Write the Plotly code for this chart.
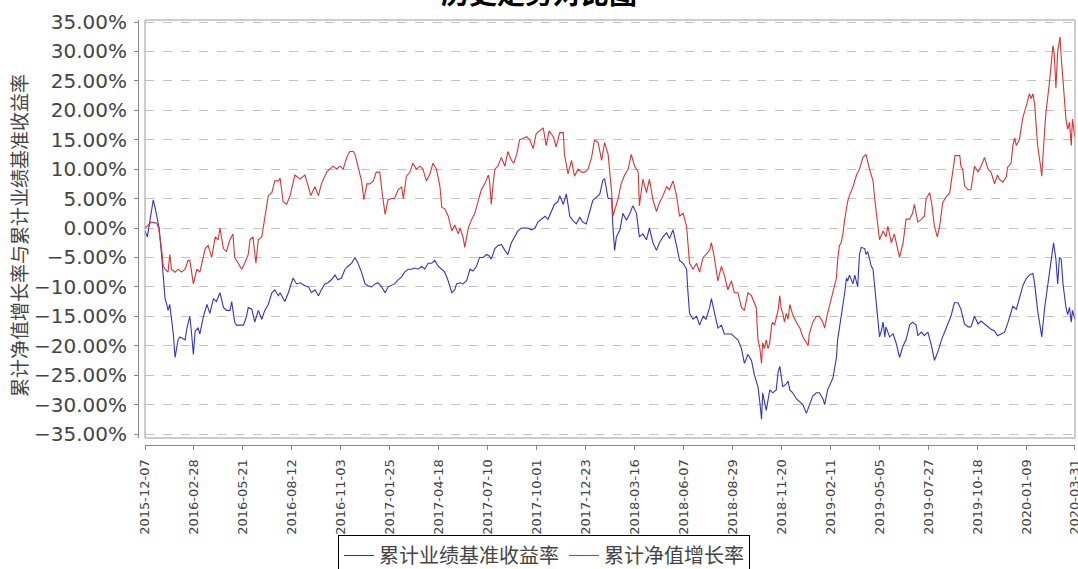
import pandas as pd
import plotly.graph_objects as go

start_date = "2015-12-07"

# 累计业绩基准收益率 (days since start, %)
bench_days = [0, 4, 8, 14, 17, 20, 24, 28, 31, 34, 37, 39, 42, 45, 48, 51, 54, 56, 59, 65, 68, 71, 76, 79, 82, 85, 90, 93, 99, 105,
              110, 116, 121, 127, 133, 138, 144, 147, 152, 155, 161, 167, 172, 175, 181, 186, 192, 198, 203, 209, 215, 220, 226, 229, 237, 243, 251, 257, 263, 271,
              277, 282, 288, 294, 299, 305, 310, 316, 322, 327, 333, 339, 344, 350, 356, 361, 367, 373, 378, 384, 390, 395, 401, 407, 412, 418, 423, 429, 435, 440,
              446, 452, 457, 463, 469, 474, 480, 486, 491, 497, 503, 508, 514, 520, 525, 528, 534, 539, 545, 551, 556, 562, 567, 573, 579, 584, 587, 593, 598, 604,
              610, 615, 621, 627, 632, 638, 644, 649, 655, 661, 666, 672, 678, 683, 689, 694, 700, 703, 709, 714, 717, 720, 725, 731, 737, 742, 748, 754, 759, 765,
              771, 776, 779, 785, 791, 793, 796, 799, 805, 810, 816, 822, 827, 833, 838, 844, 850, 855, 861, 867, 872, 878, 884, 889, 895, 901, 906, 912, 918, 920,
              923, 929, 935, 940, 946, 951, 957, 960, 965, 971, 977, 982, 988, 994, 999, 1005, 1011, 1016, 1022, 1028, 1033, 1039, 1042, 1045, 1047, 1050, 1053, 1059, 1064, 1070,
              1073, 1076, 1078, 1081, 1087, 1090, 1093, 1098, 1104, 1110, 1115, 1121, 1126, 1132, 1138, 1143, 1149, 1152, 1157, 1163, 1166, 1172, 1174, 1177, 1183, 1186, 1189, 1191, 1194, 1200,
              1203, 1208, 1211, 1214, 1220, 1222, 1225, 1231, 1234, 1237, 1239, 1242, 1245, 1248, 1251, 1254, 1256, 1262, 1268, 1273, 1279, 1285, 1290, 1296, 1301, 1307, 1310, 1316, 1321, 1327,
              1333, 1338, 1344, 1350, 1355, 1361, 1366, 1372, 1378, 1383, 1389, 1395, 1400, 1406, 1412, 1417, 1423, 1429, 1434, 1440, 1445, 1451, 1457, 1462, 1468, 1471, 1477, 1482, 1488, 1493,
              1499, 1505, 1508, 1513, 1518, 1520, 1525, 1530, 1536, 1540, 1544, 1547, 1550, 1553, 1556, 1561, 1564, 1567, 1570, 1572, 1576]
bench_pct = [-0.5, -1.5, 1, 4.8, 3.5, 2, 0, -4.5, -8, -12, -13, -14, -13, -15.5, -18, -22, -20, -19, -18.5, -18.8, -19, -17, -15, -18, -21.5, -17.5, -17, -18, -15, -13,
             -14.5, -12, -12.5, -11, -13.5, -14, -14, -12.5, -16, -16.5, -16.5, -16.5, -15, -13.5, -13.8, -16, -14, -15.5, -14, -13, -11, -10.5, -11.5, -11, -12.5, -11, -8.5, -9.5, -9.3, -9.8,
             -10, -11, -10.5, -11.5, -10.5, -9.5, -9.3, -8.8, -8, -8.8, -8.5, -7, -6.5, -6, -5, -6, -7.5, -9.5, -9.8, -10, -9.5, -9.3, -10, -11, -10, -9.8, -9.5, -8.8, -8.3, -7.5,
             -7, -7, -6.8, -7, -6.5, -7, -6, -6, -5.5, -6.5, -7, -7.5, -9, -11, -10.5, -9.5, -9.3, -9.5, -9, -7, -7.3, -6.5, -5, -5, -4.5, -4.8, -5.3, -3.5, -3, -2.8,
             -3.8, -4.5, -2.5, -1.5, -0.5, 0, 0, 0, -0.3, 0, 1, 1.5, 2, 1.5, 3, 4, 4.5, 5.5, 4, 5.8, 4, 2, 1.3, 0.7, 1.8, 1, 0.7, 3, 4.7, 5.2,
             5.8, 8.1, 8.4, 5, 5, 0.3, -3.8, -1.5, -0.3, 2.5, 1.3, 2.5, 3.8, 2.5, -1.5, -1, -2, 0, -2.5, -3.8, -2.5, -1.5, -0.8, -1.8, -0.3, -3, -5.5, -6, -7, -10.5,
             -14.5, -15.5, -15, -16.5, -15, -15.5, -13.5, -12, -14.5, -17, -16.5, -18, -18, -18, -18.5, -19, -20.5, -23, -21.5, -22.5, -25, -27, -29.5, -32.5, -28, -29.5, -31, -27.5, -28, -27.5,
             -24.5, -23.5, -25, -27, -26.5, -26, -27.5, -28, -29, -29.5, -30, -31.5, -30, -28.5, -28, -28, -29, -30, -27.5, -26, -25.5, -22, -19, -17, -13.3, -11, -8.5, -9, -8, -9.5,
             -8, -10, -4.5, -3.3, -3.5, -4.5, -4, -6.5, -7, -10, -12.5, -16, -18.5, -17.5, -16, -18.5, -16.8, -18.5, -18, -19.5, -22, -20, -19, -16.5, -16, -16.5, -18.3, -17.7, -18.3, -17.7,
             -20, -22.5, -21, -19, -17.7, -16.3, -15, -12.7, -12.7, -13.8, -16.3, -16.8, -16.8, -15, -16.3, -15.8, -16.3, -16.8, -17.2, -17.5, -18.3, -18, -17.7, -16.3, -14.5, -13.3, -13.8, -11.8, -9.8, -8.7,
             -8, -7.7, -9.5, -14, -16.8, -18.5, -13.5, -9.5, -5.3, -2.5, -5.3, -9.5, -5, -5.3, -9.5, -13.5, -14.7, -13.5, -16, -14, -15.5]

# 累计净值增长率 (days since start, %)
nav_days = [0, 5, 11, 20, 23, 28, 31, 34, 39, 42, 45, 51, 56, 62, 68, 73, 76, 82, 88, 93, 102, 107, 113, 119, 124, 127, 133, 138, 144, 149,
            152, 158, 164, 169, 175, 178, 183, 188, 192, 198, 203, 209, 215, 220, 226, 229, 234, 240, 246, 251, 254, 263, 271, 277, 281, 288, 294, 299, 308, 313,
            319, 325, 330, 336, 342, 347, 353, 356, 361, 367, 371, 376, 381, 387, 392, 398, 402, 407, 412, 418, 423, 429, 435, 438, 443, 449, 454, 460, 466, 471,
            477, 483, 488, 494, 500, 503, 508, 514, 520, 525, 531, 534, 539, 542, 548, 553, 559, 565, 570, 576, 582, 584, 587, 590, 593, 598, 604, 610, 615, 621,
            625, 630, 635, 641, 647, 652, 658, 663, 669, 675, 680, 685, 692, 697, 700, 703, 709, 711, 717, 723, 728, 734, 740, 745, 751, 757, 762, 768, 774, 779,
            785, 788, 791, 793, 796, 802, 807, 813, 819, 824, 830, 836, 838, 841, 844, 850, 855, 861, 867, 872, 878, 884, 889, 895, 901, 906, 912, 918, 920, 923,
            929, 935, 940, 946, 951, 957, 960, 965, 971, 977, 982, 988, 994, 999, 1005, 1011, 1016, 1022, 1028, 1036, 1039, 1042, 1045, 1047, 1050, 1053, 1056, 1059, 1062, 1064,
            1067, 1070, 1073, 1076, 1078, 1081, 1084, 1087, 1090, 1093, 1098, 1104, 1110, 1115, 1121, 1124, 1126, 1132, 1138, 1143, 1149, 1152, 1157, 1160, 1166, 1172, 1174, 1177, 1180, 1183,
            1186, 1189, 1191, 1194, 1200, 1206, 1211, 1217, 1222, 1228, 1234, 1237, 1242, 1245, 1251, 1256, 1259, 1265, 1270, 1276, 1279, 1285, 1290, 1296, 1301, 1304, 1310, 1316, 1321, 1324,
            1330, 1334, 1338, 1343, 1347, 1352, 1358, 1364, 1369, 1373, 1381, 1383, 1386, 1389, 1395, 1400, 1406, 1412, 1417, 1423, 1429, 1434, 1440, 1445, 1448, 1454, 1460, 1462, 1468, 1471,
            1474, 1477, 1482, 1488, 1493, 1499, 1502, 1505, 1508, 1513, 1518, 1520, 1525, 1527, 1533, 1536, 1539, 1541, 1544, 1547, 1551, 1553, 1556, 1558, 1561, 1564, 1567, 1570, 1572, 1576]
nav_pct = [0, 0.5, 1, 0.8, 0, -3.5, -6.5, -7, -7.5, -4.5, -7, -7.5, -7, -7.5, -7, -5.5, -5.5, -9.5, -7, -7.5, -3.5, -3, -5, -1.5, -2, 0, -3.5, -4, -2, -1,
           -5, -6, -7, -6, -4.5, -2, -1.5, -6, -2, -1.5, 1.5, 5.5, 6, 8, 8, 8.5, 4.5, 4, 5.5, 8, 9, 8.3, 9, 7, 5.5, 7, 5.5, 7.5, 9.5, 10,
           10.5, 10, 10.5, 10, 12, 13, 13, 12.5, 10.5, 8, 4.8, 7.5, 7.5, 8, 9.5, 9.5, 6, 2.3, 4.8, 5, 5, 6.5, 7, 5, 8.8, 9.5, 11, 10, 10.5, 10,
           8, 9.2, 11, 10, 7, 3.5, 3.3, 2, -0.5, 0.5, -1, 0, -1.5, -3.3, 0, 1.3, 2.5, 4.7, 6.5, 7.5, 9, 8, 4, 7.5, 10, 10.5, 12, 10.5, 13, 11.5,
           11, 12.5, 15, 15.2, 15.5, 15, 13.5, 16, 16.5, 17, 14, 16.5, 15.5, 13.8, 15, 16.2, 16.2, 12.5, 9.2, 11.5, 8.8, 10, 9.5, 9.5, 10, 12, 15, 14.5, 11.5, 14.5,
           12.5, 9.5, 6, 2, 3, 5, 7.5, 9, 10, 12.5, 10.5, 9.5, 3.8, 6.5, 8.3, 6, 8.3, 4.8, 2.8, 4.3, 5.5, 7, 6.5, 8, 5.5, 2, 2.5, 0.3, -3, -6,
           -7, -6, -7.5, -5, -4.5, -3.8, -2.5, -5, -9, -6.5, -8, -10.5, -9, -11, -11, -13.5, -14, -11, -11.5, -13.5, -19, -20.3, -23, -19.5, -20.5, -19, -20.5, -19.5, -16.5, -16,
           -16.5, -15, -14, -11.5, -13.5, -14.5, -16, -14.5, -15.5, -13, -14.8, -16, -17, -18.5, -19.5, -20, -18, -16, -15, -15, -16, -17, -14.5, -13.3, -10.5, -8.5, -5.5, -3, -2.5, -1,
           1.5, 3.5, 4.5, 5.5, 7, 9, 10, 12, 12.5, 10, 8, 4.8, 0.3, -2, -0.5, -1.5, 0.3, -2.5, -1, -3.5, -5, -2.5, 1.5, 1.5, 2.5, 4, 1, 1.5, 2, 5,
           6, 3.8, 0.3, -1.5, 0.3, 4.3, 5.3, 6, 9.3, 12.3, 12.3, 10.5, 10, 7.2, 6.5, 6.5, 10.5, 9.5, 10.5, 12, 10, 9.5, 7.5, 9, 8.3, 7.8, 8.7, 10.3, 11, 14,
           15.3, 14, 15, 18.8, 20.5, 22.8, 22, 22.8, 21, 14, 10.5, 8.8, 16.8, 19.5, 24.7, 27.5, 31, 29.8, 23.8, 30, 32.5, 29, 25.5, 22, 18.5, 16.8, 18, 14, 18.5, 15.5]

x_tick_labels = ["2015-12-07", "2016-02-28", "2016-05-21", "2016-08-12", "2016-11-03", "2017-01-25", "2017-04-18",
                 "2017-07-10", "2017-10-01", "2017-12-23", "2018-03-16", "2018-06-07", "2018-08-29", "2018-11-20",
                 "2019-02-11", "2019-05-05", "2019-07-27", "2019-10-18", "2020-01-09", "2020-03-31"]
y_tick_values = [-0.35, -0.30, -0.25, -0.20, -0.15, -0.10, -0.05, 0.0, 0.05, 0.10, 0.15, 0.20, 0.25, 0.30, 0.35]

start = pd.Timestamp(start_date)
bench_x = start + pd.to_timedelta(bench_days, unit="D")
nav_x = start + pd.to_timedelta(nav_days, unit="D")

W, H = 1078, 569
CJK = "Noto Sans CJK SC"

fig = go.Figure()
fig.add_trace(go.Scatter(x=bench_x, y=[v / 100 for v in bench_pct], mode="lines",
                         name="累计业绩基准收益率", line=dict(color="#3434c4", width=1.1)))
fig.add_trace(go.Scatter(x=nav_x, y=[v / 100 for v in nav_pct], mode="lines",
                         name="累计净值增长率", line=dict(color="#d83434", width=1.1)))

fig.update_layout(
    width=W, height=H,
    margin=dict(l=0, r=0, t=0, b=0, autoexpand=False),
    paper_bgcolor="white", plot_bgcolor="white",
    showlegend=True,
    xaxis=dict(
        domain=[145 / W, 1075 / W], anchor="free", position=1 - 445 / H,
        type="date", range=["2015-12-07", "2020-03-31 08:00"],
        tickvals=x_tick_labels, ticktext=x_tick_labels, tickangle=-90,
        tickfont=dict(family="DejaVu Sans", size=13, color="#444444"),
        ticklabeloverflow="allow", ticklabelstandoff=4,
        showline=True, linecolor="#8a8a8a", linewidth=1,
        ticks="outside", ticklen=4, tickcolor="#8a8a8a",
        showgrid=False, zeroline=False, automargin=False,
    ),
    yaxis=dict(
        domain=[1 - 438 / H, 1 - 20 / H], anchor="free", position=138 / W,
        range=[-0.3568, 0.3534],
        tickvals=y_tick_values, tickformat=".2%",
        tickfont=dict(family="DejaVu Sans", size=20, color="#444444"),
        ticklabelstandoff=3,
        showline=True, linecolor="#8a8a8a", linewidth=1,
        ticks="outside", ticklen=4, tickcolor="#8a8a8a",
        showgrid=True, gridcolor="#c4c4c4", griddash="dash", gridwidth=1,
        zeroline=False, automargin=False,
    ),
    legend=dict(
        orientation="h", x=544 / W, xanchor="center", y=1 - 535 / H, yanchor="top",
        bordercolor="#000000", borderwidth=1, bgcolor="white",
        font=dict(family=CJK, size=20, color="#444444"),
        itemwidth=30, tracegroupgap=0,
    ),
    shapes=[dict(type="rect", xref="x domain", yref="y domain", x0=0, x1=1, y0=0, y1=1,
                 line=dict(color="#9a9a9a", width=1), layer="above")],
    annotations=[
        dict(text="<b>历史走势对比图</b>", xref="paper", yref="paper", x=0.5, y=1 + 8 / H,
             xanchor="center", yanchor="middle", showarrow=False,
             font=dict(family=CJK, size=28, color="#000000")),
        dict(text="累计净值增长率与累计业绩基准收益率", xref="paper", yref="paper",
             x=18 / W, y=1 - 236 / H, xanchor="center", yanchor="middle", textangle=-90,
             showarrow=False, font=dict(family=CJK, size=19, color="#444444")),
    ],
)

fig.write_html(
    "out.html",
    config={"displayModeBar": False},
    post_script="document.body.style.margin='0px';document.body.style.overflow='hidden';",
)
